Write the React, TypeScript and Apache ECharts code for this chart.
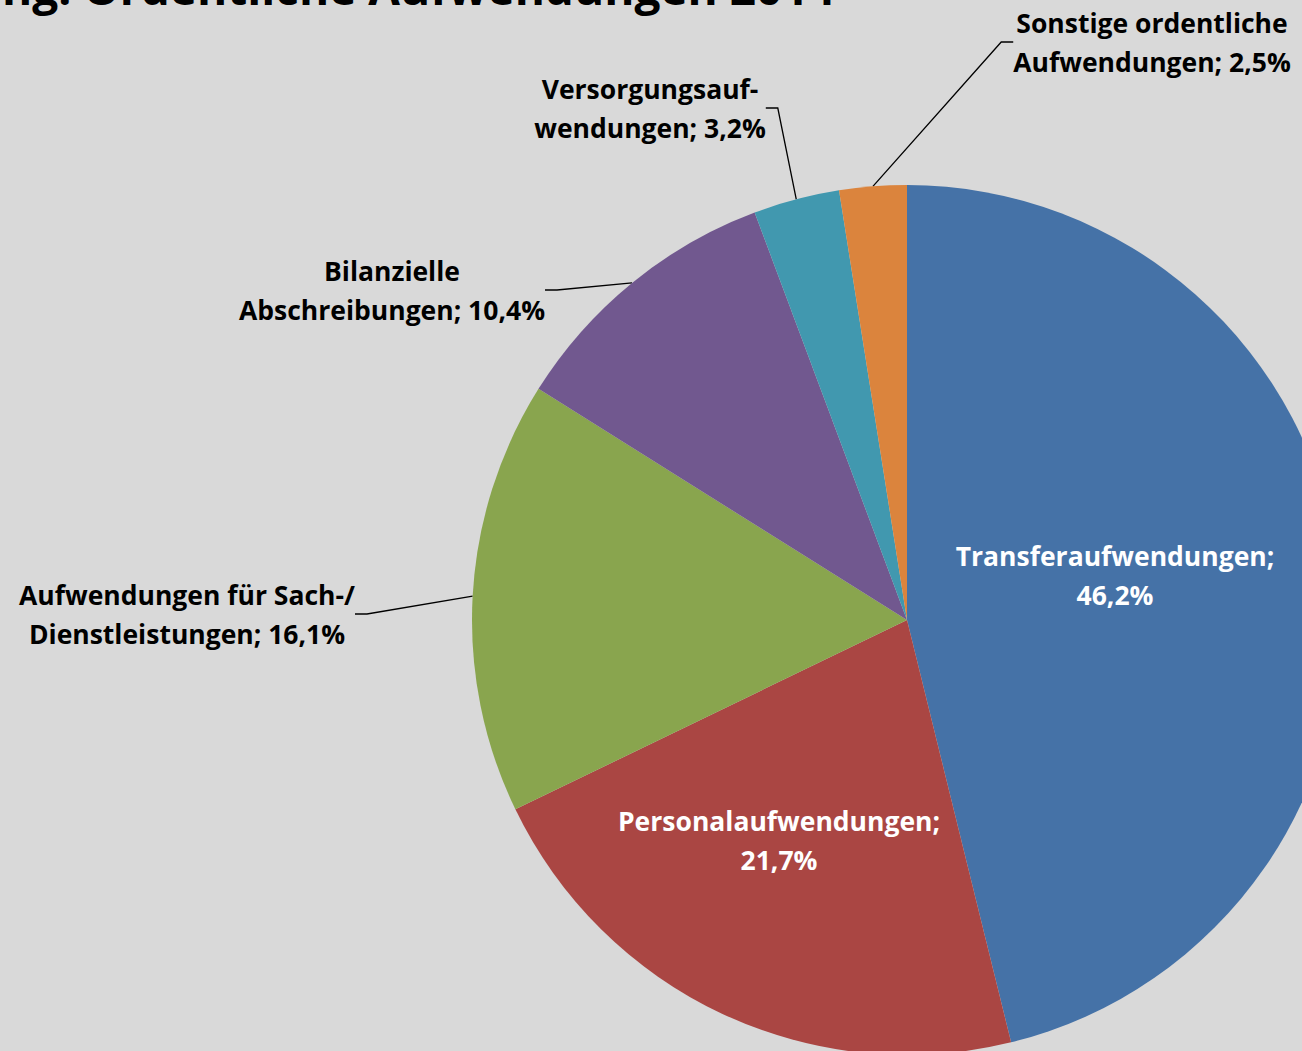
import React, { useEffect, useRef } from "react";
import * as echarts from "echarts";

const categories = [
  "Transferaufwendungen",
  "Personalaufwendungen",
  "Aufwendungen für Sach-/\nDienstleistungen",
  "Bilanzielle\nAbschreibungen",
  "Versorgungsauf-\nwendungen",
  "Sonstige ordentliche\nAufwendungen",
];
const values = [46.2, 21.7, 16.1, 10.4, 3.2, 2.5];
const colors = ["#4572a7", "#aa4643", "#89a54e", "#71588f", "#4198af", "#db843d"];
const titleText = "Ergebnisrechnung: Ordentliche Aufwendungen 2014";

// label anchor positions (center of label block)
const labelPos: [number, number][] = [
  [1115, 575],
  [779, 840],
  [187, 614],
  [392, 290],
  [650, 108],
  [1152, 42],
];

const fmt = (v: number) => v.toFixed(1).replace(".", ",") + "%";

export default function App() {
  const ref = useRef<HTMLDivElement>(null);
  useEffect(() => {
    const chart = echarts.init(ref.current!, null, { renderer: "svg" });
    const font = "Open Sans";
    chart.setOption({
      animation: false,
      backgroundColor: "#d9d9d9",
      graphic: [
        {
          type: "text",
          right: 1302 - 835,
          top: -36,
          style: {
            text: titleText,
            font: "bold 46px 'Open Sans'",
            fill: "#000",
          },
        },
      ],
      series: [
        {
          type: "pie",
          center: [907, 620],
          radius: 435,
          startAngle: 90,
          clockwise: true,
          avoidLabelOverlap: false,
          itemStyle: { borderColor: "#d9d9d9", borderWidth: 0 },
          data: values.map((v, i) => {
            const inside = i < 2;
            const name = categories[i];
            return {
              name,
              value: v,
              itemStyle: { color: colors[i] },
              label: {
                show: true,
                position: inside ? "inside" : "outside",
                formatter: inside ? `${name};\n${fmt(v)}` : `${name}; ${fmt(v)}`,
                color: inside ? "#ffffff" : "#000000",
                fontFamily: font,
                fontWeight: "bold",
                fontSize: 26.5,
                lineHeight: 39,
                align: "center",
              },
              labelLine: {
                show: !inside,
                length: 20,
                length2: 12,
                lineStyle: { color: "#000", width: 1.3 },
              },
            };
          }),
          labelLayout: (params: any) => {
            const p = labelPos[params.dataIndex];
            return {
              x: p[0],
              y: p[1],
              align: "center",
              verticalAlign: "middle",
            };
          },
        },
      ],
    });
    return () => chart.dispose();
  }, []);
  return (
    <div
      ref={ref}
      style={{ position: "fixed", left: 0, top: 0, width: 1302, height: 1051 }}
    />
  );
}
